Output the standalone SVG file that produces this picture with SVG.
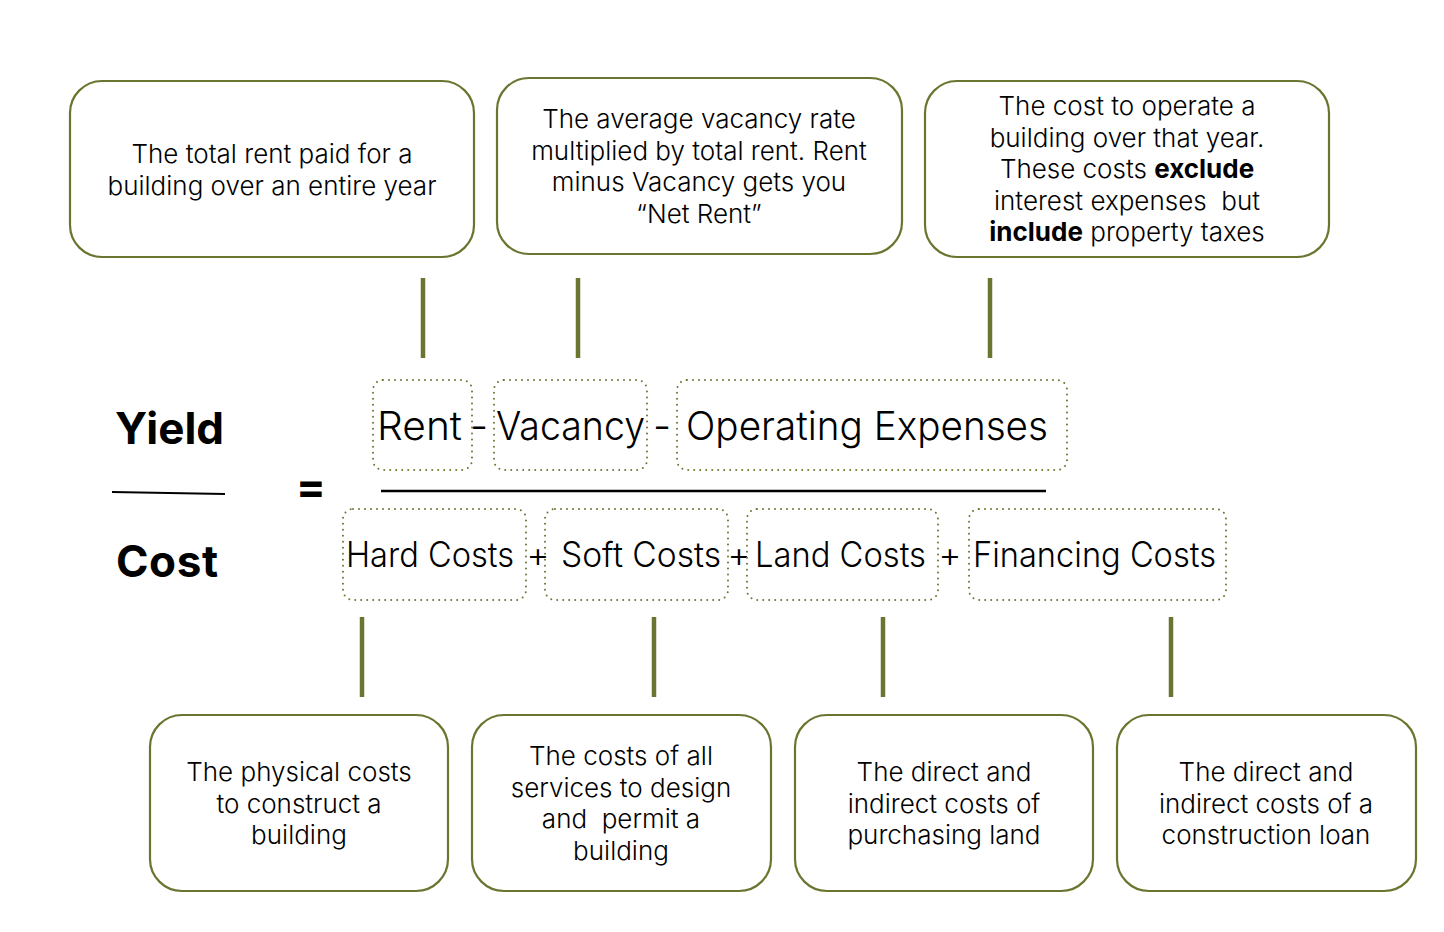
<svg xmlns="http://www.w3.org/2000/svg" width="1444" height="932" viewBox="0 0 1444 932">
<style>
.box{fill:#fff;stroke:#6b7530;stroke-width:2.2}
.dot{fill:none;stroke:#6b7530;stroke-width:2;stroke-dasharray:0 6;stroke-linecap:round}
.conn{stroke:#6b7530;stroke-width:4.5}
.t{font-family:Inter,"Noto Sans","Liberation Sans",sans-serif;font-weight:300;font-size:26px;fill:#000;text-anchor:middle;white-space:pre}
.big{font-family:Inter,"Noto Sans","Liberation Sans",sans-serif;font-weight:300;font-size:40px;fill:#000}
.mid{font-family:Inter,"Noto Sans","Liberation Sans",sans-serif;font-weight:300;font-size:35px;fill:#000}
.op{text-anchor:middle}
.hd{font-family:Inter,"Noto Sans","Liberation Sans",sans-serif;font-weight:700;font-size:44px;fill:#000}
.b{font-weight:700}
</style>
<rect width="1444" height="932" fill="#fff"/>
<g id="connectors">
<line class="conn" x1="423" y1="278" x2="423" y2="358"/>
<line class="conn" x1="578" y1="278" x2="578" y2="358"/>
<line class="conn" x1="990" y1="278" x2="990" y2="358"/>
<line class="conn" x1="362" y1="617" x2="362" y2="697"/>
<line class="conn" x1="654" y1="617" x2="654" y2="697"/>
<line class="conn" x1="883" y1="617" x2="883" y2="697"/>
<line class="conn" x1="1171" y1="617" x2="1171" y2="697"/>
</g>
<g id="desc-rent">
<rect class="box" x="70" y="81" width="404" height="176" rx="32"/>
<text class="t"><tspan x="272" y="163">The total rent paid for a</tspan><tspan x="272" y="195">building over an entire year</tspan></text>
</g>
<g id="desc-vacancy">
<rect class="box" x="497" y="78" width="405" height="176" rx="32"/>
<text class="t"><tspan x="699" y="128">The average vacancy rate</tspan><tspan x="699" y="160">multiplied by total rent. Rent</tspan><tspan x="699" y="191">minus Vacancy gets you</tspan><tspan x="699" y="223">“Net Rent”</tspan></text>
</g>
<g id="desc-opex">
<rect class="box" x="925" y="81" width="404" height="176" rx="32"/>
<text class="t"><tspan x="1127" y="115">The cost to operate a</tspan><tspan x="1127" y="147">building over that year.</tspan><tspan x="1127" y="178">These costs <tspan class="b">exclude</tspan></tspan><tspan x="1127" y="210">interest expenses  but</tspan><tspan x="1127" y="241"><tspan class="b">include</tspan> property taxes</tspan></text>
</g>
<g id="yield-cost">
<text class="hd" x="115" y="444">Yield</text>
<line x1="112" y1="492" x2="225" y2="494" stroke="#000" stroke-width="2"/>
<text class="hd" x="116" y="577" textLength="102">Cost</text>
<text class="hd" x="296" y="502" font-size="40">=</text>
<line x1="381" y1="491" x2="1046" y2="491" stroke="#000" stroke-width="2.5"/>
</g>
<g id="rent"><rect class="dot" x="373" y="380" width="99" height="90" rx="10"/><text class="big" x="377" y="440" textLength="85" lengthAdjust="spacingAndGlyphs">Rent</text></g>
<text class="big op" x="479" y="440">-</text>
<g id="vacancy"><rect class="dot" x="494" y="380" width="153" height="90" rx="10"/><text class="big" x="496" y="440" textLength="149" lengthAdjust="spacingAndGlyphs">Vacancy</text></g>
<text class="big op" x="662" y="440">-</text>
<g id="opex"><rect class="dot" x="677" y="380" width="390" height="90" rx="10"/><text class="big" x="686" y="440" textLength="362" lengthAdjust="spacingAndGlyphs">Operating Expenses</text></g>
<g id="hard"><rect class="dot" x="343" y="509" width="183" height="91" rx="10"/><text class="mid" x="346" y="567" textLength="168" lengthAdjust="spacingAndGlyphs">Hard Costs</text></g>
<text class="mid op" x="538" y="567">+</text>
<g id="soft"><rect class="dot" x="545" y="509" width="183" height="91" rx="10"/><text class="mid" x="561" y="567" textLength="160" lengthAdjust="spacingAndGlyphs">Soft Costs</text></g>
<text class="mid op" x="739" y="567">+</text>
<g id="land"><rect class="dot" x="747" y="509" width="191" height="91" rx="10"/><text class="mid" x="755" y="567" textLength="171" lengthAdjust="spacingAndGlyphs">Land Costs</text></g>
<text class="mid op" x="950" y="567">+</text>
<g id="financing"><rect class="dot" x="969" y="509" width="257" height="91" rx="10"/><text class="mid" x="973" y="567" textLength="243" lengthAdjust="spacingAndGlyphs">Financing Costs</text></g>
<g id="desc-hard">
<rect class="box" x="150" y="715" width="298" height="176" rx="32"/>
<text class="t"><tspan x="299" y="781">The physical costs</tspan><tspan x="299" y="813">to construct a</tspan><tspan x="299" y="844">building</tspan></text>
</g>
<g id="desc-soft">
<rect class="box" x="472" y="715" width="299" height="176" rx="32"/>
<text class="t"><tspan x="621" y="765">The costs of all</tspan><tspan x="621" y="797">services to design</tspan><tspan x="621" y="828">and  permit a</tspan><tspan x="621" y="860">building</tspan></text>
</g>
<g id="desc-land">
<rect class="box" x="795" y="715" width="298" height="176" rx="32"/>
<text class="t"><tspan x="944" y="781">The direct and</tspan><tspan x="944" y="813">indirect costs of</tspan><tspan x="944" y="844">purchasing land</tspan></text>
</g>
<g id="desc-financing">
<rect class="box" x="1117" y="715" width="299" height="176" rx="32"/>
<text class="t"><tspan x="1266" y="781">The direct and</tspan><tspan x="1266" y="813">indirect costs of a</tspan><tspan x="1266" y="844">construction loan</tspan></text>
</g>
</svg>
